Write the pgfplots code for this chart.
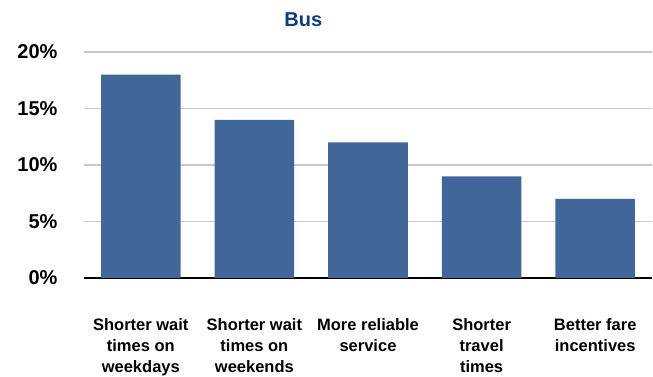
\documentclass[border=0pt]{standalone}
\usepackage{fontspec}
\setmainfont{Liberation Sans}
\usepackage{pgfplots}
\pgfplotsset{compat=1.18}
\definecolor{barblue}{HTML}{41679A}
\definecolor{titleblue}{HTML}{0E3C7F}
\definecolor{gridgray}{HTML}{C8C8C8}
\begin{document}
\begin{tikzpicture}
\useasboundingbox (-84pt,-99pt) rectangle (569pt,278pt);
\begin{axis}[
  at={(0,0)}, anchor=south west,
  scale only axis,
  width=568pt, height=226pt,
  xmin=-0.5, xmax=4.5,
  ymin=0, ymax=20,
  ytick={5,10,15,20},
  xtick={0,1,2,3,4},
  xticklabels={{Shorter wait\\times on\\weekdays},{Shorter wait\\times on\\weekends},{More reliable\\service},{Shorter\\travel\\times},{Better fare\\incentives}},
  axis line style={draw=none},
  major tick length=0pt,
  ymajorgrids,
  grid style={gridgray, line width=1.2pt},
  extra y ticks={0},
  extra y tick style={grid style={black, line width=2pt}},
  /pgf/number format/assume math mode=true,
  yticklabel={\pgfmathprintnumber{\tick}\%},
  yticklabel style={font=\fontsize{20}{22}\selectfont\bfseries, xshift=-23pt},
  xticklabel style={font=\fontsize{16.5}{21}\selectfont\bfseries, align=center, yshift=-37pt},
  clip=false,
]
\addplot[ybar, bar width=0.7, fill=barblue, draw=none] coordinates {(0,18) (1,14) (2,12) (3,9) (4,7)};
\node[font=\fontsize{20}{22}\selectfont\bfseries, text=titleblue] at (axis cs:1.43,22.9) {Bus};
\end{axis}
\end{tikzpicture}
\end{document}
